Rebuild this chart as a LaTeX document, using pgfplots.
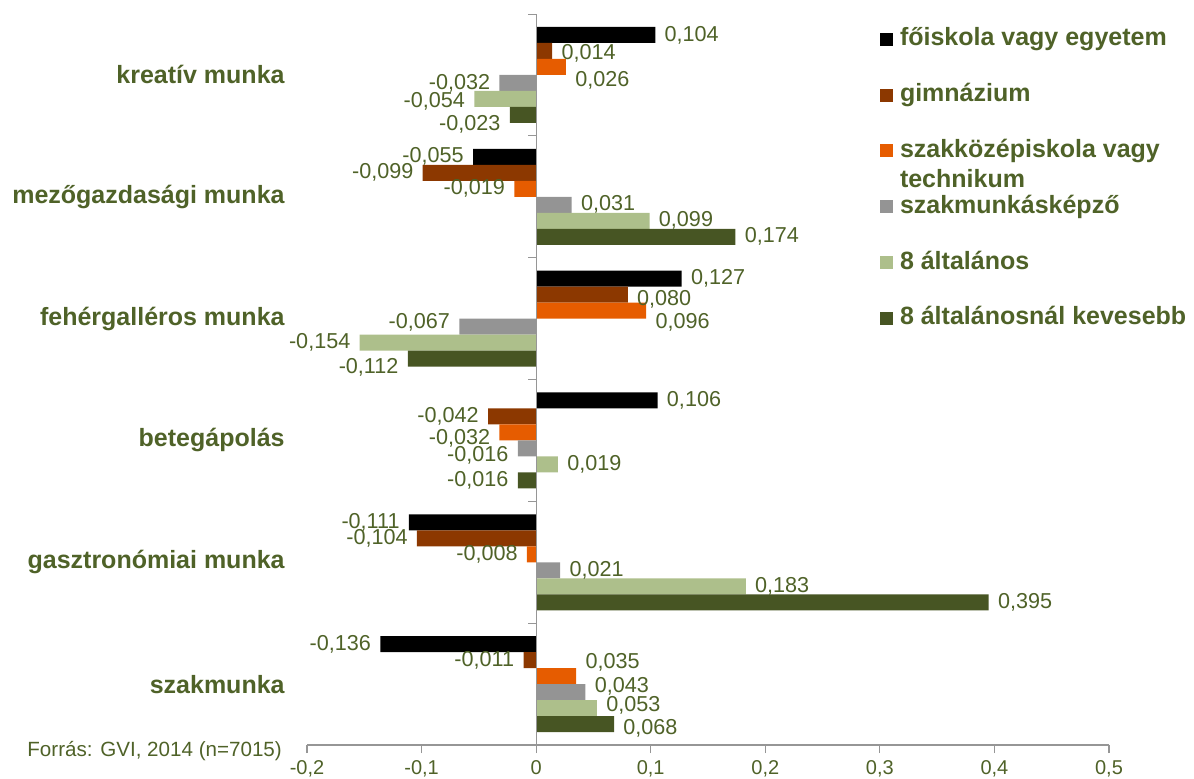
\documentclass[border=0pt]{standalone}
\usepackage{fontspec}
\setmainfont{Liberation Sans}
\usepackage{pgfplots}
\pgfplotsset{compat=1.18}
\definecolor{cBlack}{RGB}{0,0,0}
\definecolor{cBrown}{RGB}{140,56,0}
\definecolor{cOrange}{RGB}{230,92,0}
\definecolor{cGray}{RGB}{148,148,148}
\definecolor{cLight}{RGB}{173,191,139}
\definecolor{cDark}{RGB}{71,85,35}
\definecolor{txt}{RGB}{79,98,40}
\definecolor{axgray}{RGB}{150,150,150}
\begin{document}
\begin{tikzpicture}
\useasboundingbox (0,0) rectangle (597pt,389pt);
\begin{axis}[
  at={(153.5pt,16.5pt)}, anchor=south west,
  scale only axis, width=401pt, height=365.5pt,
  xmin=-0.2, xmax=0.5, ymin=-0.5, ymax=5.5,
  xbar, bar width=8pt,
  axis x line*=bottom, axis y line*=left,
  y axis line style={draw=none},
  x axis line style={axgray, line width=0.6pt},
  xtick={-0.2,-0.1,0,0.1,0.2,0.3,0.4,0.5},
  scaled ticks=false,
  tick align=outside, major tick length=4pt,
  xtick style={axgray, line width=0.6pt},
  xticklabel={\pgfmathprintnumber[fixed,precision=1,use comma,assume math mode=true]{\tick}},
  x tick label style={font=\fontsize{10}{12}\selectfont, text=txt},
  ytick={0,1,2,3,4,5},
  ytick style={draw=none},
  yticklabels={szakmunka,gasztronómiai munka,betegápolás,fehérgalléros munka,mezőgazdasági munka,kreatív munka},
  y tick label style={font=\bfseries\fontsize{12.5}{14}\selectfont, text=txt, anchor=east, inner sep=0pt, xshift=-7pt},
  point meta=x,
  visualization depends on={\thisrow{dy} \as \dy},
  nodes near coords={\pgfmathprintnumber[fixed,fixed zerofill,precision=3,use comma,assume math mode=true]{\pgfplotspointmeta}},
  nodes near coords style={font=\fontsize{10.8}{12}\selectfont, text=txt, inner sep=4.5pt, yshift=\dy pt},
  legend style={at={(0.7145,0.981)}, anchor=north west, draw=none, fill=none,
    inner sep=0pt, outer sep=0pt, row sep=15.9pt, column sep=3.5pt,
    font=\bfseries\fontsize{12.5}{15}\selectfont, text=txt,
    nodes={inner sep=0pt, text height=9pt, text depth=3pt}},
  legend cell align=left,
  legend image code/.code={\fill[#1] (0pt,-3pt) rectangle (6.5pt,3.5pt);},
]
\addplot[fill=cBlack, draw=none, bar shift=20pt] table[x=x,y=y] {
x y dy
0.104 5 0
-0.055 4 0
0.127 3 0
0.106 2 0
-0.111 1 0
-0.136 0 0
};
\addlegendentry{főiskola vagy egyetem}
\addplot[fill=cBrown, draw=none, bar shift=12pt] table[x=x,y=y] {
x y dy
0.014 5 -1
-0.099 4 0
0.080 3 -2.5
-0.042 2 0
-0.104 1 0
-0.011 0 0
};
\addlegendentry{gimnázium}
\addplot[fill=cOrange, draw=none, bar shift=4pt] table[x=x,y=y] {
x y dy
0.026 5 -6.5
-0.019 4 0
0.096 3 -6
-0.032 2 -3
-0.008 1 0
0.035 0 7
};
\addlegendentry{\begin{tabular}[t]{@{}l@{}}szakközépiskola vagy\\technikum\end{tabular}}
\addplot[fill=cGray, draw=none, bar shift=-4pt] table[x=x,y=y] {
x y dy
-0.032 5 0
0.031 4 0
-0.067 3 2
-0.016 2 -3.5
0.021 1 0
0.043 0 3
};
\addlegendentry{szakmunkásképző}
\addplot[fill=cLight, draw=none, bar shift=-12pt] table[x=x,y=y] {
x y dy
-0.054 5 -1
0.099 4 0
-0.154 3 0
0.019 2 0
0.183 1 0
0.053 0 1.5
};
\addlegendentry{8 általános}
\addplot[fill=cDark, draw=none, bar shift=-20pt] table[x=x,y=y] {
x y dy
-0.023 5 -4.5
0.174 4 0
-0.112 3 -4.5
-0.016 2 0
0.395 1 0
0.068 0 -2
};
\addlegendentry{8 általánosnál kevesebb}
\draw[axgray, line width=0.6pt] (axis cs:0,-0.5) -- (axis cs:0,5.5);
\pgfplotsinvokeforeach{0.5,1.5,2.5,3.5,4.5,5.5}{\draw[axgray, line width=0.6pt] (axis cs:0,#1) -- ++(-4pt,0pt);}
\end{axis}
\node[anchor=base west, inner sep=0pt, text=txt, font=\fontsize{10.3}{12}\selectfont] at (13.5pt,11pt) {Forrás: GVI, 2014 (n=7015)};
\end{tikzpicture}
\end{document}
